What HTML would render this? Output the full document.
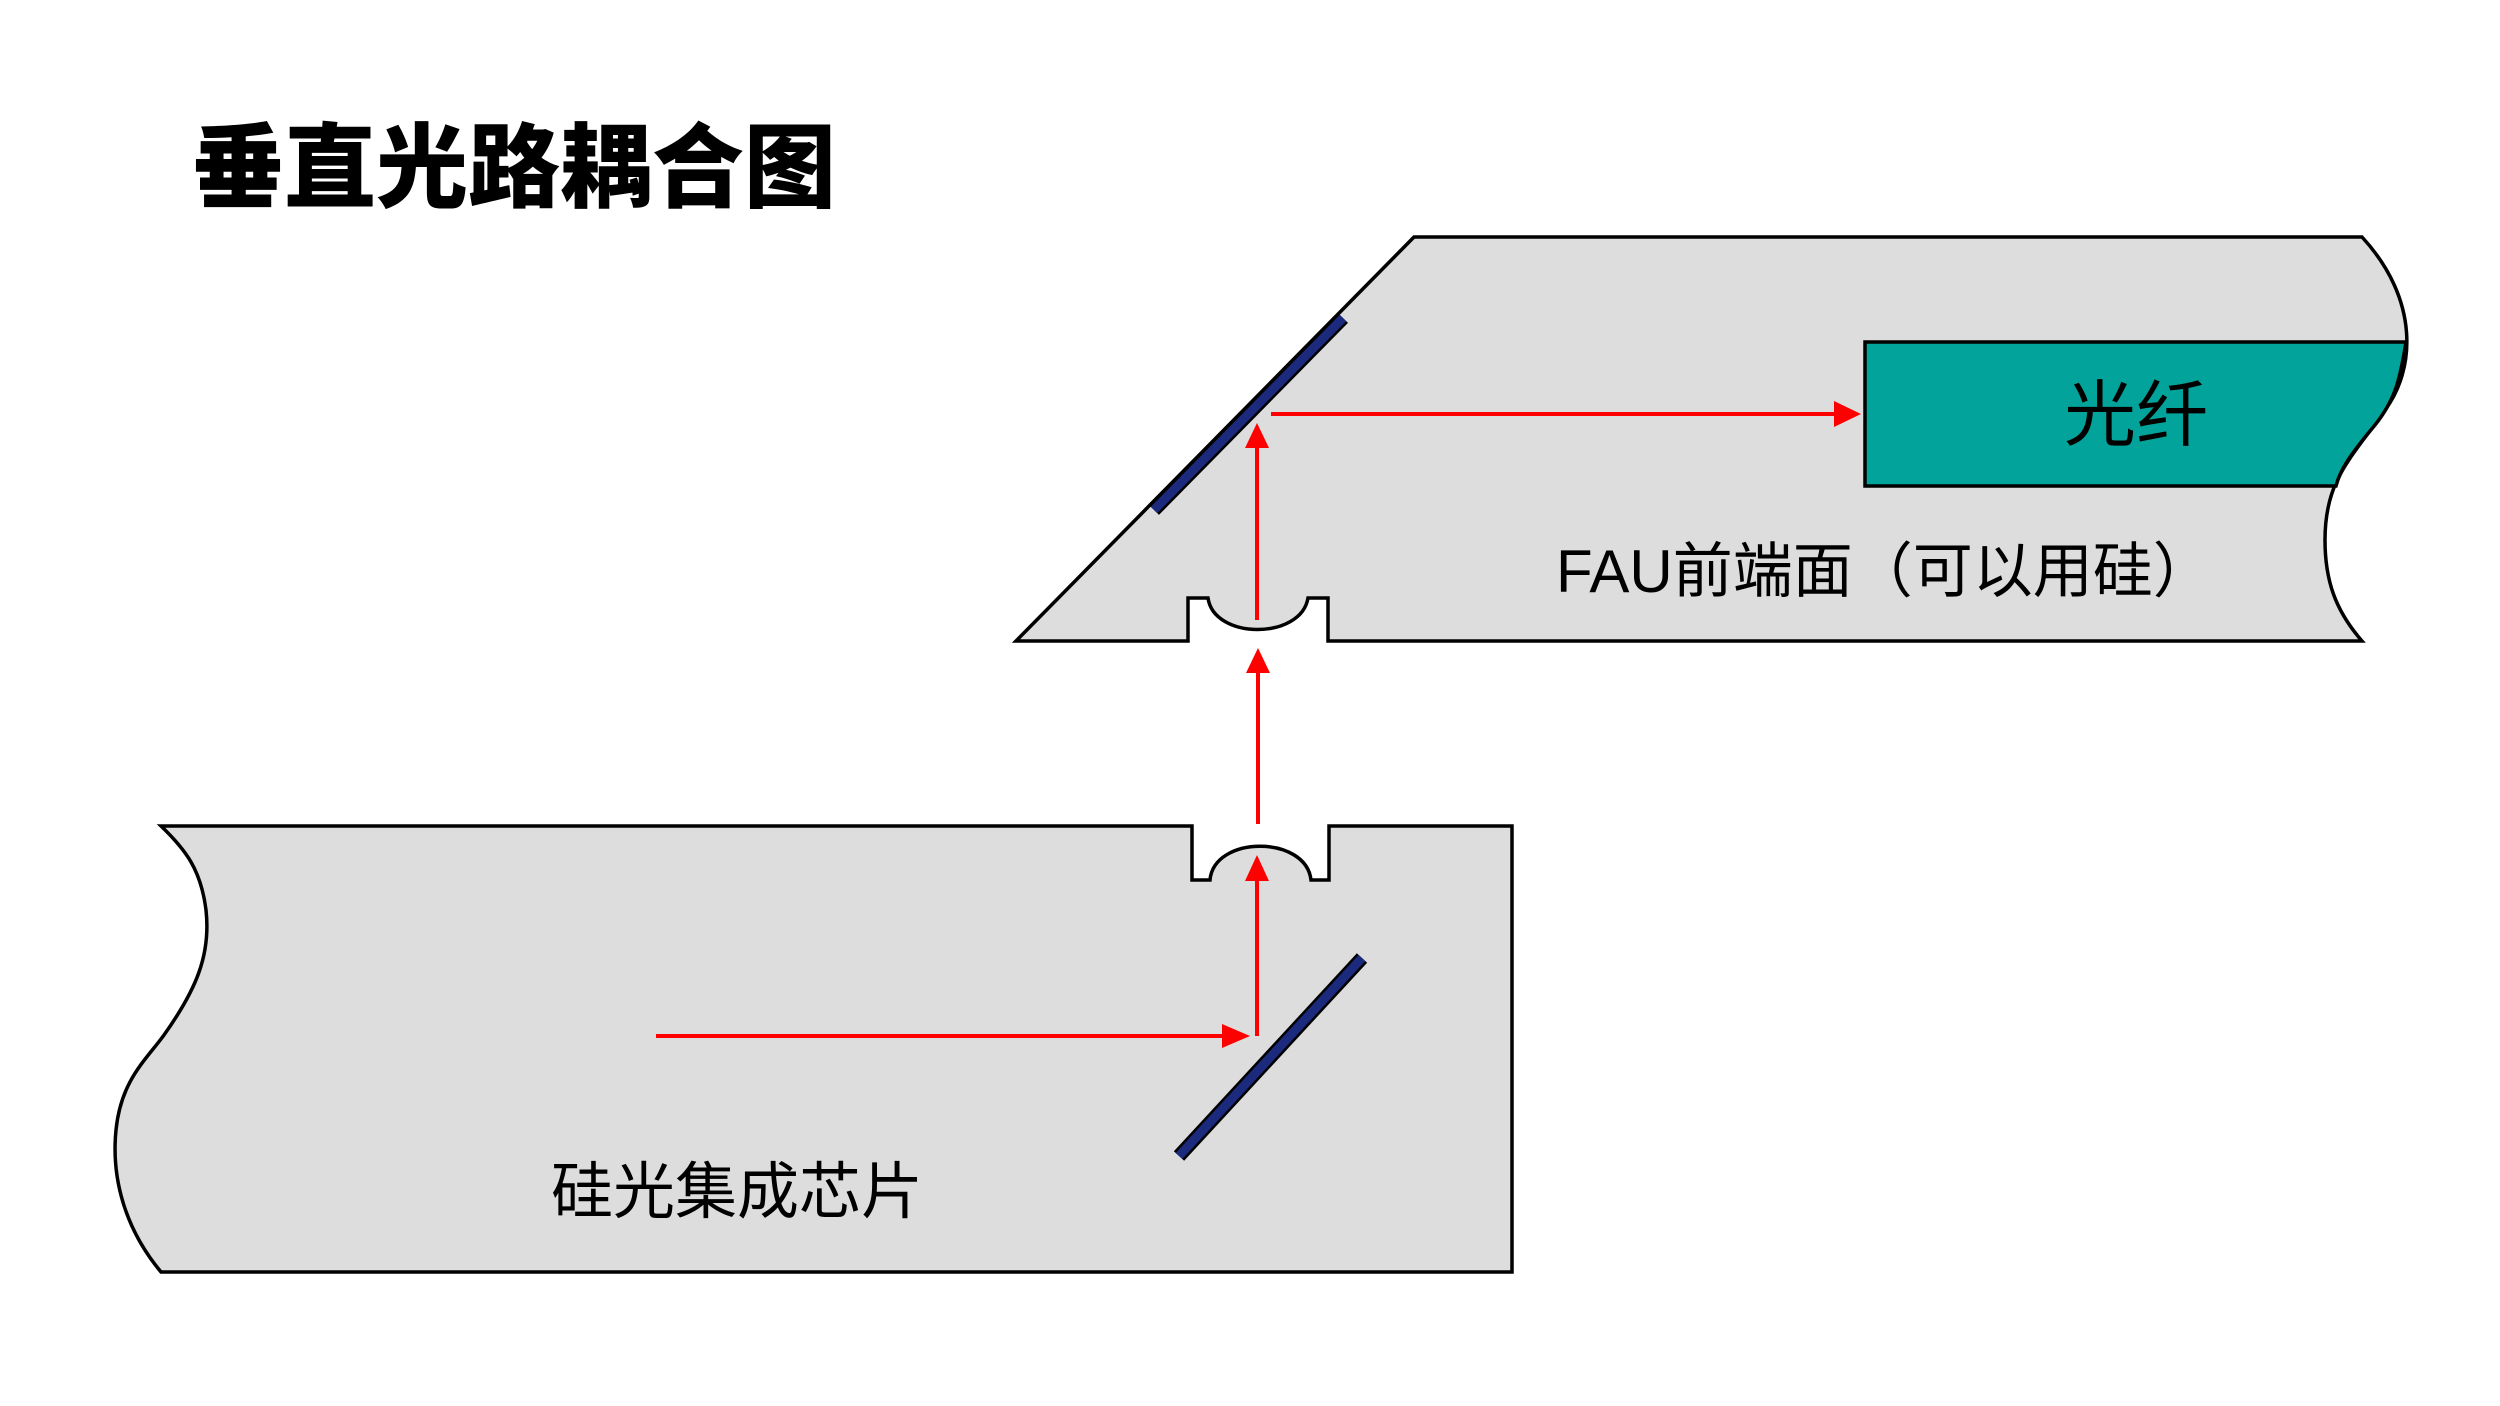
<!DOCTYPE html>
<html><head><meta charset="utf-8"><style>
html,body{margin:0;padding:0;background:#fff;}
svg{display:block;}
text{font-family:"Liberation Sans","Noto Sans CJK SC",sans-serif;}
</style></head><body>
<svg width="2500" height="1406" viewBox="0 0 2500 1406" xmlns="http://www.w3.org/2000/svg">
<text x="192" y="200" font-size="92" font-weight="bold" fill="#000" style="font-family:'Noto Sans CJK SC',sans-serif;font-weight:900">垂直光路耦合图</text>

<g transform="translate(-4,0)">
<!-- FAU block -->
<path d="M1418,237 L2366,237 C2424,300 2419,370 2389,410 C2354,460 2329,480 2329,540 C2329,580 2339,610 2366,641 L1332,641 L1332,598 L1312,598 C1305,640 1218,640 1212,598 L1192,598 L1192,641 L1020,641 Z" fill="#dcdddc" stroke="#000" stroke-width="3.5"/>
<!-- fiber -->
<path d="M1869,342 L2410,342 C2404,380 2399,400 2379,425 C2354,455 2344,470 2340,486 L1869,486 Z" fill="#02a39a" stroke="#000" stroke-width="3.5"/>
<text x="2140" y="440" font-size="72" text-anchor="middle" fill="#000">光纤</text>
<text x="1560" y="592" font-size="60" fill="#000">FAU前端面（可以用硅）</text>
<line x1="1347" y1="318" x2="1158" y2="510" stroke="#000" stroke-width="14"/>
<line x1="1347" y1="318" x2="1158" y2="510" stroke="#1c2a7d" stroke-width="9"/>

<!-- chip block -->
<path d="M165,826 L1196,826 L1196,880 L1214,880 C1218,835 1310,835 1315,880 L1333,880 L1333,826 L1516,826 L1516,1272 L165,1272 C130,1230 115,1180 120,1130 C125,1080 150,1060 168,1035 C200,990 215,955 210,910 C205,870 190,850 165,826 Z" fill="#dcdddc" stroke="#000" stroke-width="3.5"/>
<text x="555" y="1213" font-size="62" fill="#000">硅光集成芯片</text>
<line x1="1366" y1="958" x2="1183" y2="1156" stroke="#000" stroke-width="14"/>
<line x1="1366" y1="958" x2="1183" y2="1156" stroke="#1c2a7d" stroke-width="9"/>

<g stroke="#ff0000" stroke-width="4" fill="none">
<line x1="660" y1="1036" x2="1230" y2="1036"/>
<line x1="1261" y1="1036" x2="1261" y2="880"/>
<line x1="1262" y1="824" x2="1262" y2="670"/>
<line x1="1261" y1="620" x2="1261" y2="445"/>
<line x1="1275" y1="414" x2="1840" y2="414"/>
</g>
<g fill="#ff0000">
<polygon points="1254,1036 1226,1024 1226,1048"/>
<polygon points="1261,855 1249,881 1273,881"/>
<polygon points="1262,648 1250,673 1274,673"/>
<polygon points="1261,423 1249,448 1273,448"/>
<polygon points="1865,414 1838,401 1838,427"/>
</g>
</g>
</svg>
</body></html>
